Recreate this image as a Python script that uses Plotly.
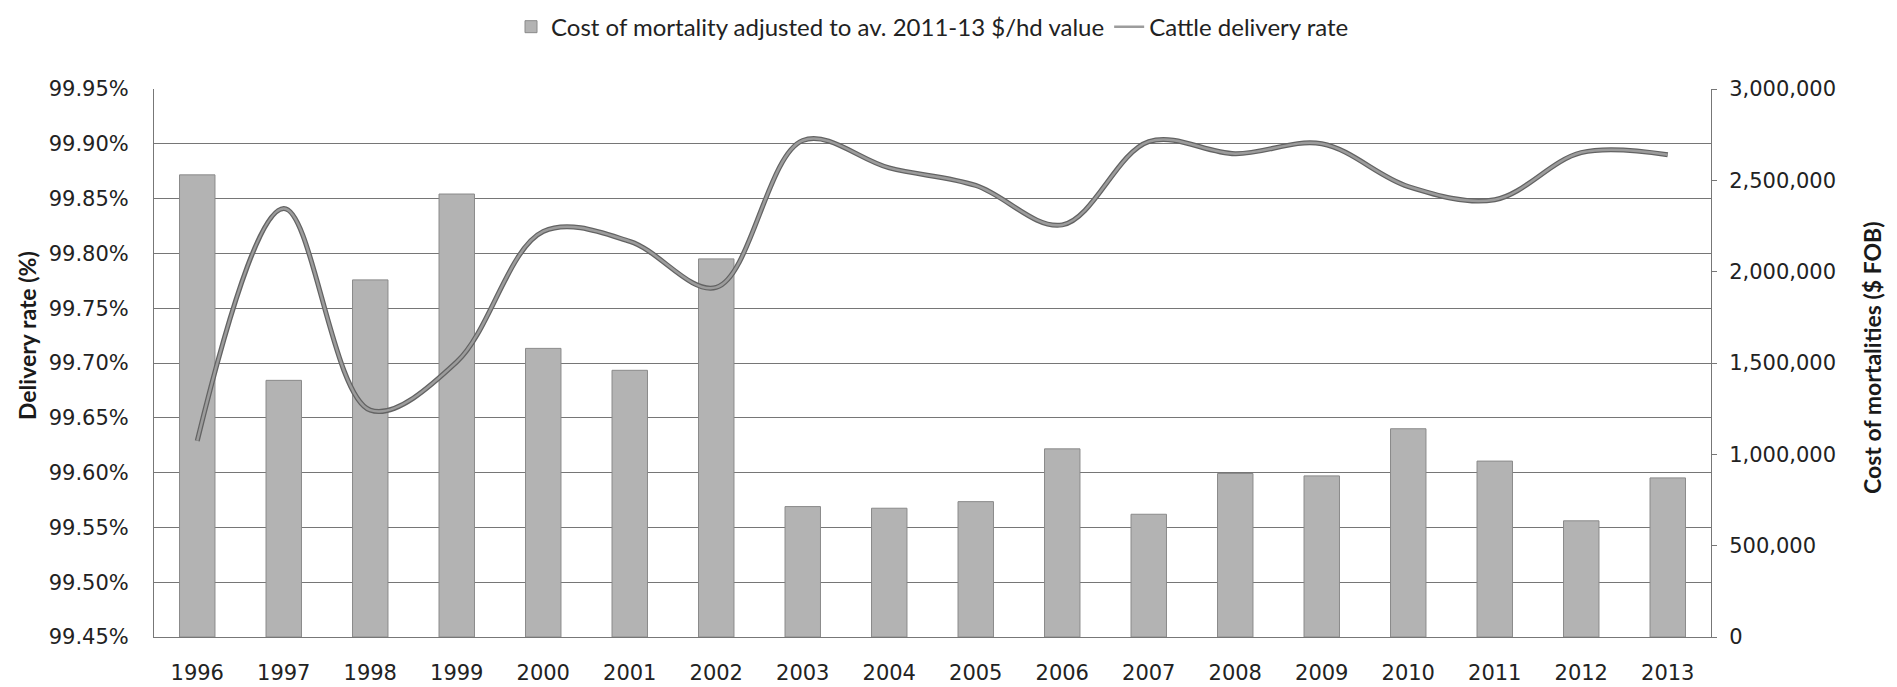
import plotly.graph_objects as go

years = ["1996", "1997", "1998", "1999", "2000", "2001", "2002", "2003", "2004",
         "2005", "2006", "2007", "2008", "2009", "2010", "2011", "2012", "2013"]

# Cost of mortality adjusted to av. 2011-13 $/hd value ($ FOB)
cost = [2530000, 1405000, 1955000, 2425000, 1580000, 1460000, 2070000, 714000, 705000,
        741000, 1030000, 672000, 895000, 882000, 1140000, 963000, 636000, 871000]

# Cattle delivery rate (%)
rate = [99.629, 99.841, 99.657, 99.701, 99.820, 99.811, 99.769, 99.903, 99.878,
        99.862, 99.826, 99.902, 99.891, 99.900, 99.861, 99.849, 99.892, 99.890]

left_ticks = [99.45, 99.50, 99.55, 99.60, 99.65, 99.70, 99.75, 99.80, 99.85, 99.90, 99.95]
left_tick_labels = ["99.45%", "99.50%", "99.55%", "99.60%", "99.65%", "99.70%",
                    "99.75%", "99.80%", "99.85%", "99.90%", "99.95%"]
right_ticks = [0, 500000, 1000000, 1500000, 2000000, 2500000, 3000000]
right_tick_labels = ["0", "500,000", "1,000,000", "1,500,000", "2,000,000",
                     "2,500,000", "3,000,000"]

left_title = "Delivery rate (%)"
right_title = "Cost of mortalities ($ FOB)"

tick_font = dict(family="DejaVu Sans", size=21, color="#222222")
title_font = dict(family="Lato", size=23, color="#1a1a1a", weight="bold")

fig = go.Figure()
fig.add_trace(go.Bar(
    x=years, y=cost, yaxis="y",
    name="Cost of mortality adjusted to av. 2011-13 $/hd value",
    marker=dict(color="#b3b3b3", line=dict(color="#8a8a8a", width=1)),
))
fig.add_trace(go.Scatter(
    x=years, y=rate, yaxis="y2", mode="lines", showlegend=False, hoverinfo="skip",
    line=dict(shape="spline", smoothing=1, color="#636363", width=5),
))
fig.add_trace(go.Scatter(
    x=years, y=rate, yaxis="y2", mode="lines", name="Cattle delivery rate",
    line=dict(shape="spline", smoothing=1, color="#9c9c9c", width=2.5),
))

# the page body adds an 8 px offset, so the figure is 8 px smaller than the window
fig.update_layout(
    width=1889, height=679,
    margin=dict(l=146, r=186, t=81, b=50, autoexpand=False),
    paper_bgcolor="white", plot_bgcolor="white",
    bargap=0.59,
    showlegend=True,
    legend=dict(orientation="h", x=0.5, xanchor="center", y=1.113, yanchor="middle",
                font=dict(family="Lato", size=24, color="#222222"),
                traceorder="normal"),
    xaxis=dict(type="category", showline=True, linecolor="#777777", linewidth=1,
               showgrid=False, ticks="", tickfont=tick_font, ticklabelstandoff=17),
    yaxis=dict(side="right", range=[0, 3000000], tickvals=right_ticks,
               ticktext=right_tick_labels,
               showgrid=False, zeroline=False, showline=True, linecolor="#777777",
               ticks="outside", ticklen=5, tickcolor="#777777", tickfont=tick_font,
               ticklabelstandoff=8),
    yaxis2=dict(overlaying="y", side="left", range=[99.45, 99.95], tickvals=left_ticks,
                ticktext=left_tick_labels, showgrid=True, gridcolor="#767676",
                gridwidth=1, zeroline=False, showline=True, linecolor="#777777",
                ticks="", tickfont=tick_font, ticklabelstandoff=20),
    annotations=[
        dict(text=left_title, xref="paper", yref="paper", x=-0.0816, y=0.551,
             xanchor="center", yanchor="middle", textangle=-90, showarrow=False,
             font=title_font),
        dict(text=right_title, xref="paper", yref="paper", x=1.1034, y=0.511,
             xanchor="center", yanchor="middle", textangle=-90, showarrow=False,
             font=title_font),
    ],
)

fig.write_html("out.html")
